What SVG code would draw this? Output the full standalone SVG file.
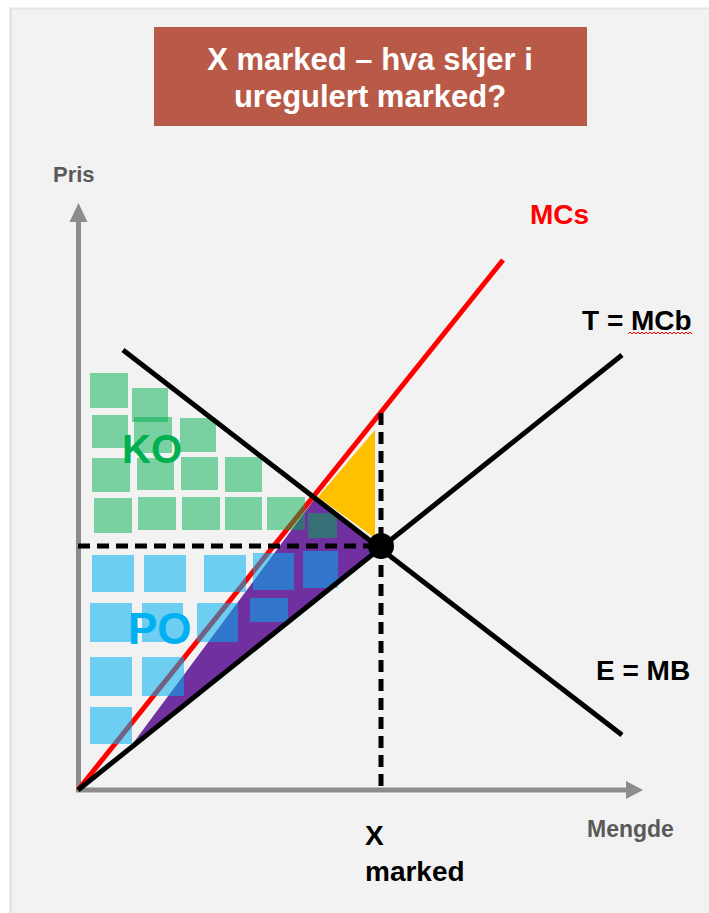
<svg xmlns="http://www.w3.org/2000/svg" width="709" height="913" viewBox="0 0 709 913">
<defs>
<style>
.lbl{font-family:"Liberation Sans",Arial,sans-serif;font-weight:bold}
.g{fill:#00b050;fill-opacity:0.5}
.b{fill:#00b0f0;fill-opacity:0.55}
.axis{stroke:#8c8c8c;stroke-width:5;fill:none}
.curve{stroke:#000;stroke-width:5;fill:none;stroke-linecap:butt}
.dash{stroke:#000;stroke-width:5;fill:none;stroke-dasharray:12 7}
</style>
</defs>
<rect x="0" y="0" width="709" height="913" fill="#ffffff"/>
<rect x="10" y="8" width="699" height="905" fill="#f2f2f2"/>
<line x1="10.5" y1="8" x2="10.5" y2="913" stroke="#dedede" stroke-width="2"/>
<line x1="10" y1="8.5" x2="709" y2="8.5" stroke="#e4e4e4" stroke-width="2"/>

<g id="title">
<rect x="154" y="27" width="433" height="99" fill="#b85a47"/>
<text class="lbl" x="370" y="70" font-size="31" fill="#ffffff" text-anchor="middle">X marked – hva skjer i</text>
<text class="lbl" x="370" y="107" font-size="31" fill="#ffffff" text-anchor="middle">uregulert marked?</text>
</g>

<g id="axes">
<line class="axis" x1="78.5" y1="792" x2="78.5" y2="220"/>
<polygon points="69.5,222 87.5,222 78.5,203" fill="#8c8c8c"/>
<line class="axis" x1="76" y1="790" x2="627" y2="790"/>
<polygon points="626,781 626,799 643,790" fill="#8c8c8c"/>
<text class="lbl" x="53" y="182" font-size="22" fill="#595959">Pris</text>
<text class="lbl" x="587" y="837" font-size="23" fill="#595959">Mengde</text>
</g>

<g id="areas">
<polygon id="purple" points="128,750 316,497 380,547" fill="#7030a0"/>
<polygon id="yellow" points="318,497 375,430 375,538" fill="#ffc000"/>
</g>

<g id="connectors">
<line id="MCs" x1="78" y1="790" x2="503" y2="260" stroke="#ff0000" stroke-width="5"/>
<g id="squares">
<rect class="g" x="90" y="373" width="38" height="35"/>
<rect class="g" x="132" y="388" width="36" height="34"/>
<rect class="g" x="92" y="415" width="36" height="33"/>
<rect class="g" x="134" y="417" width="38" height="36"/>
<rect class="g" x="180" y="418" width="36" height="34"/>
<rect class="g" x="92" y="458" width="38" height="34"/>
<rect class="g" x="137" y="458" width="37" height="32"/>
<rect class="g" x="181" y="457" width="37" height="33"/>
<rect class="g" x="225" y="457" width="37" height="35"/>
<rect class="g" x="94" y="498" width="38" height="35"/>
<rect class="g" x="138" y="497" width="38" height="33"/>
<rect class="g" x="182" y="497" width="38" height="33"/>
<rect class="g" x="225" y="497" width="37" height="33"/>
<rect class="g" x="267" y="497" width="38" height="33"/>
<rect class="g" x="308" y="513" width="29" height="25"/>
<rect class="b" x="92" y="555" width="42" height="37"/>
<rect class="b" x="144" y="555" width="42" height="37"/>
<rect class="b" x="204" y="555" width="42" height="37"/>
<rect class="b" x="253" y="553" width="41" height="37"/>
<rect class="b" x="303" y="551" width="35" height="37"/>
<rect class="b" x="90" y="603" width="42" height="39"/>
<rect class="b" x="142" y="603" width="41" height="39"/>
<rect class="b" x="197" y="603" width="41" height="39"/>
<rect class="b" x="250" y="598" width="38" height="24"/>
<rect class="b" x="90" y="657" width="42" height="39"/>
<rect class="b" x="142" y="657" width="42" height="39"/>
<rect class="b" x="90" y="707" width="42" height="37"/>
</g>
<line id="MCb" class="curve" x1="78" y1="790" x2="622" y2="355"/>
<line id="MB" class="curve" x1="123" y1="350" x2="622" y2="735"/>
<line class="dash" x1="78" y1="546" x2="380" y2="546"/>
<line class="dash" x1="381" y1="413" x2="381" y2="790"/>
<circle cx="381" cy="546" r="13" fill="#000"/>
</g>

<g id="labels">
<text class="lbl" x="122" y="463" font-size="40" fill="#00b050">KO</text>
<text class="lbl" x="128" y="644" font-size="44" fill="#00b0f0">PO</text>
<text class="lbl" x="530" y="224" font-size="28" fill="#ff0000">MCs</text>
<text class="lbl" x="582" y="330" font-size="28" fill="#000">T = MCb</text>
<path d="M628,334 l2,-2 l2,2 l2,-2 l2,2 l2,-2 l2,2 l2,-2 l2,2 l2,-2 l2,2 l2,-2 l2,2 l2,-2 l2,2 l2,-2 l2,2 l2,-2 l2,2 l2,-2 l2,2 l2,-2 l2,2 l2,-2 l2,2 l2,-2 l2,2 l2,-2 l2,2 l2,-2 l2,2 l2,-2 l2,2" fill="none" stroke="#ff0000" stroke-width="1"/>
<text class="lbl" x="596" y="680" font-size="28" fill="#000">E = MB</text>
<text class="lbl" x="365" y="845" font-size="28" fill="#000">X</text>
<text class="lbl" x="365" y="881" font-size="28" fill="#000">marked</text>
</g>
</svg>
